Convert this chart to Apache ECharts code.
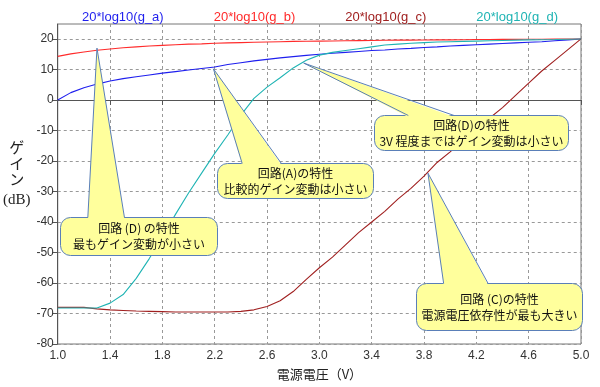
<!DOCTYPE html>
<html><head><meta charset="utf-8">
<script src="https://cdn.jsdelivr.net/npm/echarts@6/dist/echarts.min.js"></script>
<style>html,body{margin:0;padding:0;background:#fff}#c{width:600px;height:387px}</style>
</head><body><div id="c"></div>
<script>
const voltage = [1.0,1.1,1.2,1.3,1.4,1.5,1.6,1.7,1.8,1.9,2.0,2.1,2.2,2.3,2.4,2.5,2.6,2.7,2.8,2.9,3.0,3.1,3.2,3.3,3.4,3.5,3.6,3.7,3.8,3.9,4.0,4.1,4.2,4.3,4.4,4.5,4.6,4.7,4.8,4.9,5.0];
const gA = [0.0,2.4,4.0,5.2,6.2,7.0,7.6,8.2,8.8,9.3,9.8,10.3,10.8,11.6,12.2,12.8,13.3,13.8,14.2,14.6,15.0,15.3,15.6,15.9,16.2,16.4,16.7,16.9,17.2,17.4,17.7,17.9,18.1,18.3,18.5,18.7,18.9,19.1,19.4,19.7,20.0];
const gB = [14.3,15.1,15.7,16.3,16.7,17.1,17.4,17.7,17.9,18.1,18.3,18.4,18.6,18.7,18.8,18.9,19.0,19.1,19.2,19.25,19.3,19.35,19.4,19.45,19.5,19.55,19.6,19.6,19.65,19.7,19.7,19.75,19.8,19.8,19.85,19.85,19.9,19.9,19.95,19.95,20.0];
const gC = [-68.0,-68.0,-68.0,-68.5,-68.8,-69.0,-69.2,-69.3,-69.4,-69.5,-69.5,-69.5,-69.5,-69.5,-69.3,-68.8,-67.7,-65.8,-62.8,-58.8,-55.0,-51.5,-47.5,-43.5,-40.0,-36.5,-32.5,-29.0,-25.0,-20.5,-17.0,-13.0,-9.5,-6.0,-2.5,1.5,5.5,9.5,13.0,16.5,20.0];
const gD = [-68.2,-68.2,-68.2,-68.2,-66.6,-63.8,-58.5,-52.0,-45.0,-37.5,-30.5,-24.0,-17.5,-11.5,-5.0,0.5,4.2,7.3,10.5,13.0,14.7,15.6,16.2,16.8,17.4,18.0,18.3,18.6,18.8,19.0,19.1,19.2,19.3,19.4,19.5,19.6,19.7,19.75,19.8,19.9,20.0];
const seriesNames = ['20*log10(g_a)','20*log10(g_b)','20*log10(g_c)','20*log10(g_d)'];
const xTicks = [1.0,1.4,1.8,2.2,2.6,3.0,3.4,3.8,4.2,4.6,5.0];
const yTicks = [-80,-70,-60,-50,-40,-30,-20,-10,0,10,20];
const calloutTexts = [
  ['回路 (D) の特性','最もゲイン変動が小さい'],
  ['回路(A)の特性','比較的ゲイン変動は小さい'],
  ['回路(D)の特性','3V 程度まではゲイン変動は小さい'],
  ['回路 (C)の特性','電源電圧依存性が最も大きい']
];

const colors = ['#1f1fee','#ff2b2b','#a02020','#1fb4b4'];
const seriesData = [gA,gB,gC,gD];

// callout geometry in data coordinates: tip, box [x0,x1,yTop,yBottom], wedge base [x0,x1]
const calloutGeom = [
  {tip:[1.3,17], box:[1.02,2.22,-38.4,-50.8], base:[1.23,1.51]},
  {tip:[2.19,10.2], box:[2.22,3.41,-20.7,-32.1], base:[2.41,2.71]},
  {tip:[2.88,12.1], box:[3.42,4.90,-4.9,-16.4], base:[3.68,4.03]},
  {tip:[3.83,-24], box:[3.74,5.01,-60,-75.4], base:[3.95,4.29]}
];

const chart = echarts.init(document.getElementById('c'));
const axisFont = 'Liberation Sans, Arial, sans-serif';
chart.setOption({
  animation:false,
  grid:{left:55,right:19,top:24,bottom:43,show:true,borderColor:'#777',borderWidth:1,backgroundColor:'#fff'},
  legend:{top:6,left:71,itemWidth:0,itemHeight:0,itemGap:44,
    data:seriesNames.map((n,i)=>({name:n,textStyle:{color:colors[i]}})),
    textStyle:{fontSize:13,fontFamily:axisFont}},
  xAxis:{type:'value',min:1,max:5,
    name:'電源電圧（V）',nameLocation:'middle',nameGap:24,
    nameTextStyle:{fontSize:13,color:'#222',fontFamily:'Noto Sans CJK JP'},
    axisLine:{lineStyle:{color:'#555'}},
    axisTick:{length:5,lineStyle:{color:'#555'},customValues:xTicks},
    axisLabel:{customValues:xTicks,formatter:v=>v.toFixed(1),color:'#333',fontSize:12,fontFamily:axisFont,margin:6},
    splitLine:{show:true,lineStyle:{color:'#999',type:[3,3]}}},
  yAxis:{type:'value',min:-80,max:24.9,
    name:'{a|ゲ}\n{a|イ}\n{a|ン}\n{b|(dB)}',nameLocation:'middle',nameGap:37,nameRotate:0,
    nameTextStyle:{align:'center',verticalAlign:'middle',padding:[0,0,16,0],color:'#222',
      rich:{a:{fontSize:15,lineHeight:16,fontFamily:'Noto Sans CJK JP',color:'#222'},b:{fontSize:15,lineHeight:26,fontFamily:'Liberation Serif',color:'#222'}}},
    axisLine:{show:true,lineStyle:{color:'#555'}},
    axisTick:{show:true,length:5,lineStyle:{color:'#555'},customValues:yTicks},
    axisLabel:{customValues:yTicks,color:'#333',fontSize:12,fontFamily:axisFont,margin:4},
    splitLine:{show:true,lineStyle:{color:'#999',type:[3,3]}}},
  series:seriesNames.map((n,i)=>({name:n,type:'line',showSymbol:false,
    data:voltage.map((v,j)=>[v,seriesData[i][j]]),
    lineStyle:{width:1.1,color:colors[i]},itemStyle:{color:colors[i]}}))
});

function px(p){return chart.convertToPixel({gridIndex:0},p);}
const els = [];
calloutGeom.forEach((c,k)=>{
  const tl = px([c.box[0],c.box[2]]), br = px([c.box[1],c.box[3]]);
  const tip = px(c.tip), b0 = px([c.base[0],c.box[2]]), b1 = px([c.base[1],c.box[2]]);
  const x=Math.round(tl[0])+0.5, y=Math.round(tl[1])+0.5, w=Math.round(br[0]-tl[0]), h=Math.round(br[1]-tl[1]);
  els.push({type:'rect',z:100,shape:{x:x,y:y,width:w,height:h,r:10},style:{fill:'#ffff9c',stroke:'#5a7fb8',lineWidth:1}});
  els.push({type:'polygon',z:101,shape:{points:[[b0[0],y+1.5],tip,[b1[0],y+1.5]]},style:{fill:'#ffff9c'}});
  els.push({type:'polyline',z:102,shape:{points:[[b0[0],y],tip,[b1[0],y]]},style:{stroke:'#5a7fb8',fill:null,lineWidth:1}});
  els.push({type:'text',z:103,x:x+w/2,y:y+h/2,style:{text:calloutTexts[k].join('\n'),align:'center',verticalAlign:'middle',fontSize:12,fontFamily:'Noto Sans CJK JP',fill:'#111',lineHeight:16}});
});
chart.setOption({graphic:els});
</script></body></html>
